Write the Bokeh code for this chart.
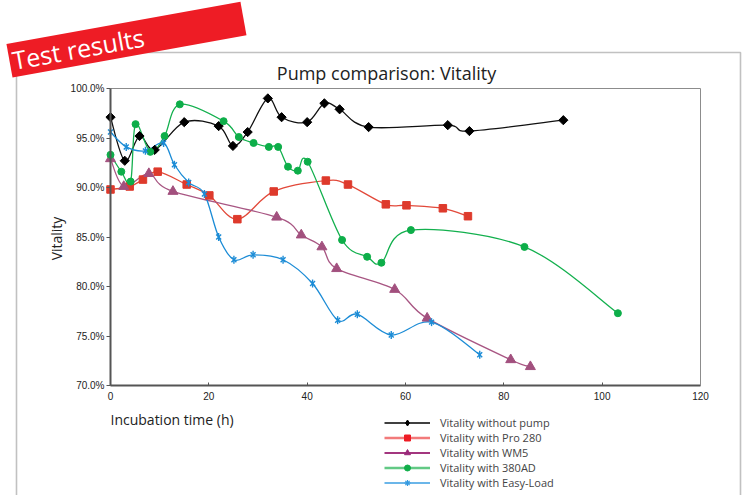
import numpy as np
from bokeh.plotting import figure
from bokeh.models import (Range1d, FixedTicker, PrintfTickFormatter, Label, PolyAnnotation,
                          Legend, LegendItem, ColumnDataSource, LinearAxis)
from bokeh.embed import file_html
from bokeh.resources import INLINE

# ---------------- data ----------------
black_x = [0, 2.9, 5.9, 9.0, 15.0, 22.0, 24.9, 27.9, 32.0, 34.8, 40.0, 43.5, 46.6, 52.5, 68.6, 73.0, 92.1]
black_y = [97.1, 92.7, 95.2, 93.8, 96.6, 96.2, 94.2, 95.6, 99.0, 97.1, 96.6, 98.5, 97.9, 96.1, 96.3, 95.7, 96.8]

red_x = [0, 3.9, 6.6, 9.6, 15.5, 20.1, 25.8, 33.2, 43.8, 48.3, 56.0, 60.2, 67.6, 72.7]
red_y = [89.8, 90.1, 90.8, 91.6, 90.3, 89.2, 86.8, 89.6, 90.7, 90.3, 88.3, 88.2, 87.9, 87.1]

wm5_x = [0, 2.7, 7.8, 12.7, 33.8, 38.8, 43.0, 46.0, 57.8, 64.4, 81.4, 85.4]
wm5_y = [92.9, 90.1, 91.4, 89.6, 87.0, 85.2, 84.0, 81.8, 79.7, 76.8, 72.6, 71.9]

green_x = [0, 2.2, 4.1, 5.1, 8.1, 11.0, 14.1, 23.0, 26.1, 29.1, 32.2, 34.1, 36.1, 38.1, 40.1,
           47.1, 52.2, 55.1, 61.1, 84.2, 103.2]
green_y = [93.3, 91.6, 90.6, 96.4, 93.6, 95.2, 98.4, 96.7, 95.1, 94.5, 94.1, 94.1, 92.1, 91.7, 92.6,
           84.7, 83.0, 82.4, 85.7, 84.0, 77.3]

blue_x = [0, 3.2, 7.1, 10.8, 13.0, 15.9, 19.1, 22.0, 25.1, 29.0, 35.1, 41.1, 46.2, 50.2, 57.1, 65.3, 75.1]
blue_y = [95.6, 94.1, 93.7, 94.5, 92.3, 90.5, 89.35, 85.0, 82.7, 83.2, 82.7, 80.3, 76.6, 77.2, 75.1, 76.4, 73.1]

series_names = ["Vitality without pump", "Vitality with Pro 280", "Vitality with WM5",
                "Vitality with 380AD", "Vitality with Easy-Load"]
x_ticks = [0, 20, 40, 60, 80, 100, 120]
y_ticks = [70, 75, 80, 85, 90, 95, 100]
x_lo, x_hi = 0, 120
y_lo, y_hi = 70, 100

# ---------------- helpers ----------------
def smooth_segments(xs, ys, t=1.0 / 6.0):
    """Cubic Bezier control points (Catmull-Rom style, like a spreadsheet 'smoothed line')."""
    x = np.asarray(xs, float)
    y = np.asarray(ys, float)
    n = len(x)
    xp = np.concatenate([[x[0]], x, [x[-1]]])
    yp = np.concatenate([[y[0]], y, [y[-1]]])
    return dict(
        x0=x[:-1], y0=y[:-1], x1=x[1:], y1=y[1:],
        cx0=x[:-1] + (xp[2:n + 1] - xp[0:n - 1]) * t,
        cy0=y[:-1] + (yp[2:n + 1] - yp[0:n - 1]) * t,
        cx1=x[1:] - (xp[3:n + 2] - xp[1:n]) * t,
        cy1=y[1:] - (yp[3:n + 2] - yp[1:n]) * t,
    )

# canvas / plotting-area geometry (pixels)
W, H = 744, 495
PL, PR, PT, PB = 110, 700, 88, 385          # plotting area edges on the canvas
kx = (PR - PL) / (x_hi - x_lo)
ky = (PB - PT) / (y_hi - y_lo)
x_range = Range1d(x_lo - PL / kx, x_hi + (W - PR) / kx)
y_range = Range1d(y_lo - (H - PB) / ky, y_hi + PT / ky)

def cy(py):          # canvas y (from top) -> screen units (from bottom)
    return H - py

p = figure(width=W, height=H, x_range=x_range, y_range=y_range,
           output_backend="svg", toolbar_location=None,
           min_border_left=0, min_border_right=0, min_border_top=0, min_border_bottom=0)
p.title.visible = False
p.grid.visible = False
p.outline_line_color = None
p.background_fill_color = "white"
p.border_fill_color = "white"

# axes placed inside the canvas at the plotting area's edges
xa = p.xaxis[0]
ya = p.yaxis[0]
xa.fixed_location = y_lo
ya.fixed_location = x_lo
xa.bounds = (x_lo, x_hi)
ya.bounds = (y_lo, y_hi)
for ax in (xa, ya):
    ax.axis_line_color = "#555555"
    ax.axis_line_width = 2
    ax.major_tick_line_color = "#555555"
    ax.major_tick_line_width = 1
    ax.minor_tick_line_color = None
    ax.major_label_text_font = "Liberation Sans"
    ax.major_label_text_font_size = "10px"
    ax.major_label_text_color = "#222222"

xa.ticker = FixedTicker(ticks=x_ticks)
xa.major_tick_in = 3
xa.major_tick_out = 0
xa.major_label_standoff = 6

ya.ticker = FixedTicker(ticks=y_ticks)
ya.formatter = PrintfTickFormatter(format="%.1f%%")
ya.major_tick_in = 0
ya.major_tick_out = 4
ya.major_label_standoff = 2

# thin grey top / right border of the plotting area
top_ax = LinearAxis(fixed_location=y_hi, bounds=(x_lo, x_hi), ticker=FixedTicker(ticks=[]),
                    axis_line_color="#8c8c8c", axis_line_width=1, major_tick_line_color=None,
                    minor_tick_line_color=None)
right_ax = LinearAxis(fixed_location=x_hi, bounds=(y_lo, y_hi), ticker=FixedTicker(ticks=[]),
                      axis_line_color="#8c8c8c", axis_line_width=1, major_tick_line_color=None,
                      minor_tick_line_color=None)
p.add_layout(top_ax, "above")
p.add_layout(right_ax, "right")

# ---------------- page decorations ----------------
frame_box = PolyAnnotation(xs=[16, 16, 740, 740], ys=[cy(640), cy(52), cy(52), cy(640)],
                           xs_units="screen", ys_units="screen", fill_color=None, fill_alpha=0,
                           line_color="#333333", line_width=1.6, level="underlay")
p.add_layout(frame_box)

# red tilted banner: a label with its own red background box
p.add_layout(Label(x=12, y=cy(77), x_units="screen", y_units="screen", text="Test results",
                   angle=0.1787, anchor="bottom_left",
                   padding=dict(left=3, right=101, top=0, bottom=0),
                   background_fill_color="#EE1C25", background_fill_alpha=1,
                   text_color="white", text_font="Open Sans", text_font_size="25px"))

p.add_layout(Label(x=386, y=cy(72), x_units="screen", y_units="screen",
                   text="Pump comparison: Vitality", text_color="#222222", text_font="Open Sans",
                   text_font_size="18px", text_align="center", text_baseline="middle"))

p.add_layout(Label(x=56, y=cy(238), x_units="screen", y_units="screen", text="Vitality",
                   angle=np.pi / 2, text_color="#222222", text_font="Open Sans", text_font_size="14px",
                   text_align="center", text_baseline="middle"))

p.add_layout(Label(x=110, y=cy(419), x_units="screen", y_units="screen",
                   text="Incubation time (h)", text_color="#222222", text_font="Open Sans",
                   text_font_size="14px", text_align="left", text_baseline="middle"))

# ---------------- series ----------------
styles = [
    dict(xs=black_x, ys=black_y, line="#111111", mk="#000000", marker="diamond", size=6.5),
    dict(xs=red_x, ys=red_y, line="#E2493A", mk="#DE3A2C", marker="square", size=7.5),
    dict(xs=wm5_x, ys=wm5_y, line="#A85683", mk="#A2507E", marker="triangle", size=10),
    dict(xs=green_x, ys=green_y, line="#13B04E", mk="#0DAE49", marker="circle", size=7),
    dict(xs=blue_x, ys=blue_y, line="#1C8CD6", mk="#1C8CD6", marker="star6", size=7),
]

for s in styles:
    src = ColumnDataSource(smooth_segments(s["xs"], s["ys"]))
    p.bezier(x0="x0", y0="y0", x1="x1", y1="y1", cx0="cx0", cy0="cy0", cx1="cx1", cy1="cy1",
             source=src, line_color=s["line"], line_width=1.3)

def add_markers(xs, ys, kind, size, color, lw=1.4):
    if kind == "star6":
        return [p.scatter(xs, ys, marker="x", size=size, line_color=color, line_width=lw),
                p.scatter(xs, ys, marker="dash", angle=np.pi / 2, size=size + 1,
                          line_color=color, line_width=lw)]
    if kind == "diamond":   # square turned by 45 degrees
        return [p.scatter(xs, ys, marker="square", angle=np.pi / 4, size=size,
                          fill_color=color, line_color=color)]
    return [p.scatter(xs, ys, marker=kind, size=size, fill_color=color, line_color=color)]

for s in styles:
    add_markers(s["xs"], s["ys"], s["marker"], s["size"], s["mk"])

# ---------------- legend (proxies with legend styling, one hidden NaN point each) ----------------
leg_styles = [
    dict(line="#000000", lw=1.3, marker="diamond", color="#000000"),
    dict(line="#F27A7A", lw=2.5, marker="square", color="#EE1C25"),
    dict(line="#A3367F", lw=2, marker="triangle", color="#9A2A7A"),
    dict(line="#62C985", lw=2.5, marker="circle", color="#10AE4A"),
    dict(line="#3A9EE2", lw=1.3, marker="star6", color="#3399E0"),
]
items = []
for name, ls in zip(series_names, leg_styles):
    nx, ny = [np.nan], [np.nan]
    rs = [p.line(x=nx, y=ny, line_color=ls["line"], line_width=ls["lw"])]
    if ls["marker"] == "star6":
        rs.append(p.scatter(nx, ny, marker="x", line_color=ls["color"], line_width=1.2))
        rs.append(p.scatter(nx, ny, marker="cross", line_color=ls["color"], line_width=1.2))
    else:
        rs.append(p.scatter(nx, ny, marker=ls["marker"], fill_color=ls["color"], line_color=ls["color"]))
    items.append(LegendItem(label=name, renderers=rs))

legend = Legend(items=items, location=(384, cy(490)), orientation="vertical",
                glyph_width=46, glyph_height=15, label_height=15, spacing=0,
                padding=0, margin=0, border_line_alpha=0, background_fill_alpha=0,
                label_standoff=10, label_text_font="Open Sans", label_text_font_size="11px",
                label_text_color="#444444")
p.add_layout(legend)

open("out.html", "w").write(file_html(p, INLINE))
